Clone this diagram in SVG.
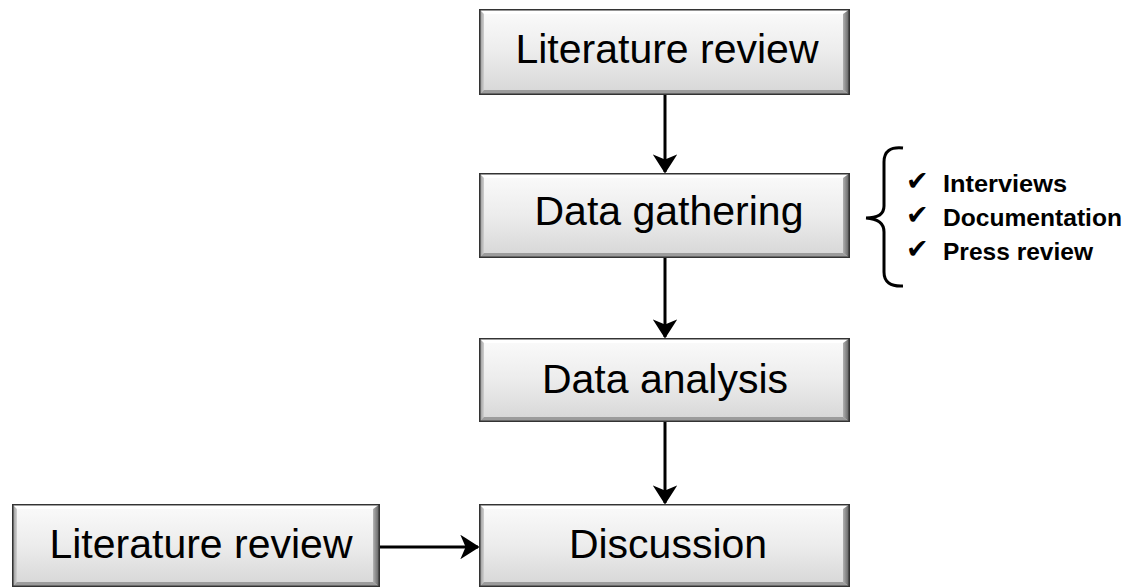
<svg xmlns="http://www.w3.org/2000/svg" xmlns:xlink="http://www.w3.org/1999/xlink" width="1135" height="587" viewBox="0 0 1135 587">
  <defs>
    <linearGradient id="face" x1="0" y1="0" x2="0" y2="1">
      <stop offset="0" stop-color="#fbfbfb"/>
      <stop offset="0.5" stop-color="#ececec"/>
      <stop offset="1" stop-color="#d6d6d6"/>
    </linearGradient>
    <linearGradient id="rbev" x1="0" y1="0" x2="1" y2="0">
      <stop offset="0" stop-color="#b0b0b0"/>
      <stop offset="1" stop-color="#555555"/>
    </linearGradient>
    <linearGradient id="lbev" x1="0" y1="0" x2="1" y2="0">
      <stop offset="0" stop-color="#8a8a8a"/>
      <stop offset="1" stop-color="#d0d0d0"/>
    </linearGradient>
    <symbol id="box" viewBox="0 0 371 85" preserveAspectRatio="none">
      <rect x="0" y="0" width="371" height="85" fill="url(#face)"/>
      <polygon points="0,0 371,0 364,5 5,5" fill="#ffffff"/>
      <polygon points="0,0 5,5 5,80 0,85" fill="url(#lbev)"/>
      <polygon points="371,0 364,5 364,80 371,85" fill="url(#rbev)"/>
      <polygon points="0,85 5,80 364,80 371,85" fill="#9c9c9c"/>
      <rect x="0.75" y="0.75" width="369.5" height="83.5" fill="none" stroke="#333333" stroke-width="1.5"/>
    </symbol>
    <marker id="ah" markerUnits="userSpaceOnUse" markerWidth="24" markerHeight="24" viewBox="-14 -10 16 20" refX="0" refY="0" orient="auto">
      <path d="M-12,-7 L-1,0 L-12,7 L-9,0 Z" fill="#000" stroke="#000" stroke-width="2.5" stroke-linejoin="miter"/>
    </marker>
    <style>
      .lbl { font-family: "Liberation Sans", Arial, sans-serif; font-size: 41px; fill: #000; text-anchor: middle; }
      .item { font-family: "Liberation Sans", Arial, sans-serif; font-size: 24px; font-weight: bold; fill: #000; }
      .chk { font-family: "DejaVu Sans", sans-serif; font-size: 27px; fill: #000; }
      .conn { fill: none; stroke: #000; stroke-width: 3; }
    </style>
  </defs>

  <g id="connectors">
    <line class="conn" x1="665" y1="95" x2="665" y2="172" marker-end="url(#ah)"/>
    <line class="conn" x1="665" y1="258" x2="665" y2="337" marker-end="url(#ah)"/>
    <line class="conn" x1="665" y1="422" x2="665" y2="503" marker-end="url(#ah)"/>
    <line class="conn" x1="380" y1="547" x2="478" y2="547" marker-end="url(#ah)"/>
  </g>

  <g id="node-literature-review-top">
    <use xlink:href="#box" x="479" y="9" width="371" height="86"/>
    <text class="lbl" x="667" y="63">Literature review</text>
  </g>

  <g id="node-data-gathering">
    <use xlink:href="#box" x="479" y="173" width="371" height="85"/>
    <text class="lbl" x="669" y="225">Data gathering</text>
  </g>

  <g id="node-data-analysis">
    <use xlink:href="#box" x="479" y="338" width="371" height="84"/>
    <text class="lbl" x="665" y="393">Data analysis</text>
  </g>

  <g id="node-discussion">
    <use xlink:href="#box" x="479" y="504" width="371" height="83"/>
    <text class="lbl" x="668" y="558">Discussion</text>
  </g>

  <g id="node-literature-review-left">
    <use xlink:href="#box" x="12" y="504" width="368" height="83"/>
    <text class="lbl" x="201" y="558">Literature review</text>
  </g>

  <g id="node-data-sources">
    <path d="M903,148 Q884,146 884,162 L884,206 Q884,218 866,218 Q884,219 884,232 L884,272 Q884,287 903,286" fill="none" stroke="#000" stroke-width="3"/>
    <text class="chk" x="906" y="190">✔</text>
    <text class="chk" x="906" y="224">✔</text>
    <text class="chk" x="906" y="258">✔</text>
    <text class="item" x="943" y="192" textLength="124" lengthAdjust="spacingAndGlyphs">Interviews</text>
    <text class="item" x="943" y="226" textLength="179" lengthAdjust="spacingAndGlyphs">Documentation</text>
    <text class="item" x="943" y="260" textLength="150" lengthAdjust="spacingAndGlyphs">Press review</text>
  </g>
</svg>
